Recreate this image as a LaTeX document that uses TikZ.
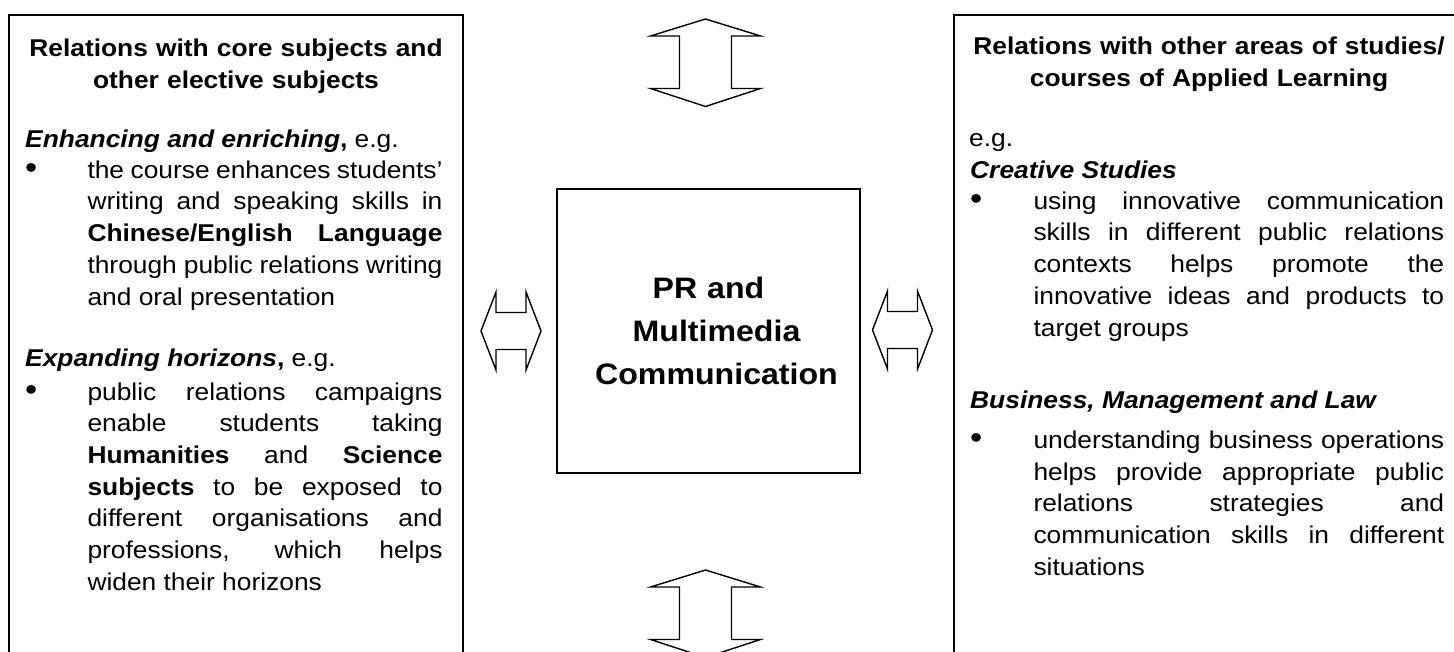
\documentclass[tikz,border=0pt]{standalone}
\usepackage{fontspec}
\setmainfont{Liberation Sans}[FakeStretch=1.085]
\newcommand{\bodyfont}{\fontsize{24.3}{31.7}\selectfont\spaceskip=7.3pt plus 40pt minus 2.5pt\relax}

\begin{document}
\begin{tikzpicture}[x=1pt, y=-1pt,
  frame/.style={line width=1.8pt},
  blockarrow/.style={line width=1.4pt, line join=miter, fill=white},
  body/.style={inner sep=0pt, anchor=base west, font=\bodyfont},
  para/.style={body, text width=#1, align=justify},
  head/.style={para=#1, anchor=base, align=center, font=\bodyfont\bfseries},
  bul/.style={body, font=\fontsize{32}{32}\selectfont}]
\useasboundingbox (0,0) rectangle (1454,652);
\clip (0,0) rectangle (1454,652);
\draw[frame] (9,15) rectangle (463,690);
\draw[frame] (954,15) rectangle (1490,690);
\node[draw, frame, inner sep=0pt, minimum width=303pt, minimum height=284pt, text width=280pt, align=center,
  font=\fontsize{29.6}{43}\selectfont\bfseries] (centre) at (708.5,331)
  {PR and\\\hspace*{16pt}Multimedia\\\hspace*{16pt}Communication};
% double arrows
\foreach \ty in {19,570}
  \draw[blockarrow] (705.5,\ty) -- ++(55,17) -- ++(-29,0) -- ++(0,52.5) -- ++(29,0) -- ++(-55,18)
    -- ++(-55,-18) -- ++(29,0) -- ++(0,-52.5) -- ++(-29,0) -- cycle;
\foreach \tx/\ty in {481/331,872.5/330}
  \draw[blockarrow] (\tx,\ty) -- ++(15,-39) -- ++(0,20.5) -- ++(30,0) -- ++(0,-20.5) -- ++(15,39)
    -- ++(-15,39) -- ++(0,-20.5) -- ++(-30,0) -- ++(0,20.5) -- cycle;
% left box
\node[head=454pt] (lhead) at (236,56.7) {Relations with core subjects and\\other elective subjects};
\node[body] (lsubA) at (25,147.7) {\textbf{\textit{Enhancing and enriching},} e.g.};
\node[bul] (lbulA) at (25,178.3) {\textbullet};
\node[para=355pt] (ltextA) at (87.3,178.3) {the course enhances students’\linebreak
  writing and speaking skills in\linebreak \textbf{Chinese/English Language}\linebreak
  through public relations writing\linebreak and oral presentation};
\node[body] (lsubB) at (25,366.7) {\textbf{\textit{Expanding horizons},} e.g.};
\node[bul] (lbulB) at (25,400) {\textbullet};
\node[para=355pt] (ltextB) at (87.3,400) {public relations campaigns\linebreak enable students taking\linebreak
  \textbf{Humanities} and \textbf{Science}\linebreak \textbf{subjects} to be exposed to\linebreak
  different organisations and\linebreak professions, which helps\linebreak widen their horizons};
% right box
\node[head=500pt] (rhead) at (1209,55) {Relations with other areas of studies/\\courses of Applied Learning};
\node[body] (reg) at (969,146.7) {e.g.};
\node[body] (rsubA) at (970,178.3) {\textbf{\textit{Creative Studies}}};
\node[bul] (rbulA) at (970,209.3) {\textbullet};
\node[para=410.7pt] (rtextA) at (1033.3,209.3) {using innovative communication\linebreak
  skills in different public relations\linebreak contexts helps promote the\linebreak
  innovative ideas and products to\linebreak target groups};
\node[body] (rsubB) at (970,408.3) {\textbf{\textit{Business, Management and Law}}};
\node[bul] (rbulB) at (970,448.3) {\textbullet};
\node[para=410.7pt] (rtextB) at (1033.3,448.3) {understanding business operations\linebreak
  helps provide appropriate public\linebreak relations strategies and\linebreak
  communication skills in different\linebreak situations};
\end{tikzpicture}
\end{document}
